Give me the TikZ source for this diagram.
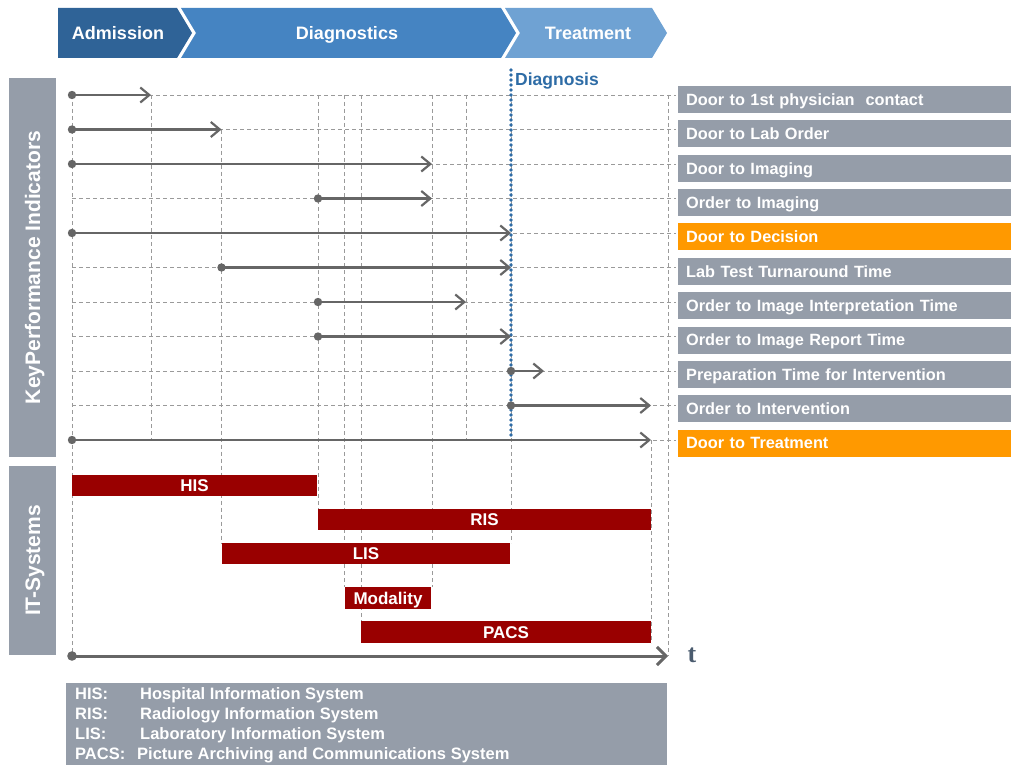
\documentclass[tikz,border=0pt]{standalone}
\usepackage{fontspec}
\setmainfont{Liberation Sans}
\newfontfamily\tfont{Liberation Serif}
\usetikzlibrary{arrows.meta}
\definecolor{admblue}{HTML}{2F6397}
\definecolor{diagblue}{HTML}{4584C2}
\definecolor{treatblue}{HTML}{6FA2D3}
\definecolor{slate}{HTML}{959DA9}
\definecolor{kpiorange}{HTML}{FF9900}
\definecolor{sysred}{HTML}{990000}
\definecolor{arrowgray}{HTML}{666666}
\definecolor{gridgray}{HTML}{9A9A9A}
\definecolor{dxblue}{HTML}{2E6CA6}
\definecolor{tcolor}{HTML}{4A5B6E}
\begin{document}
\begin{tikzpicture}[x=1pt,y=-1pt,
  grid/.style={draw=gridgray, line width=0.9pt, dash pattern=on 4pt off 3pt},
  kpiarrow/.style={draw=arrowgray, line width=2.2pt, -{Straight Barb[length=9pt,width=15pt]}},
  kpibox/.style={anchor=west, fill=slate, text=white, font=\fontsize{16.3}{18}\selectfont\bfseries, minimum height=27pt, text width=317pt, inner xsep=8pt, inner ysep=0pt, align=left, text height=11.7pt, text depth=0pt},
  keybox/.style={kpibox, fill=kpiorange},
  sysbar/.style={fill=sysred, text=white, font=\fontsize{17}{19}\selectfont\bfseries, minimum height=21.5pt, inner sep=0pt, text height=12.2pt, text depth=0pt},
  phase/.style={text=white, font=\fontsize{18}{20}\selectfont\bfseries, inner sep=0pt, text height=13pt, text depth=0pt},
  sidebar/.style={fill=slate, text=white, rotate=90, font=\fontsize{21}{24}\selectfont\bfseries, minimum height=47pt, inner sep=0pt, text height=15.1pt, text depth=0pt},
  legend/.style={anchor=west, text=white, font=\fontsize{16.5}{19}\selectfont\bfseries, inner sep=0pt, text height=11.9pt, text depth=0pt},
]
\useasboundingbox (0,0) rectangle (1011,765);

% phase chevrons
\fill[admblue] (58,8) -- (177,8) -- (192,33) -- (177,58) -- (58,58) -- cycle;
\fill[diagblue] (181,8) -- (501,8) -- (516,33) -- (501,58) -- (181,58) -- (196,33) -- cycle;
\fill[treatblue] (505,8) -- (652,8) -- (667,33) -- (652,58) -- (505,58) -- (520,33) -- cycle;
\node[phase] (adm) at (118,33) {Admission};
\node[phase] (diag) at (347,33) {Diagnostics};
\node[phase] (treat) at (588,33) {Treatment};

% side bars
\node[sidebar, minimum width=379pt] (kpi) at (32.5,267.5) {KeyPerformance Indicators};
\node[sidebar, minimum width=189pt] (its) at (32.5,560.5) {IT-Systems};

% grid
\foreach \y in {95,129.5,164,198.5,233,267.5,302,336.5,371,405.5,440}
  \draw[grid] (72,\y) -- (676,\y);
\draw[grid] (72,95) -- (72,656);
\draw[grid] (151,95) -- (151,440);
\draw[grid] (221.5,129.5) -- (221.5,543);
\draw[grid] (318,95) -- (318,509);
\draw[grid] (344.5,95) -- (344.5,587);
\draw[grid] (361,95) -- (361,621);
\draw[grid] (432,95) -- (432,587);
\draw[grid] (466,95) -- (466,440);
\draw[grid] (511,95) -- (511,543);
\draw[grid] (651,440) -- (651,643);
\draw[grid] (668,95) -- (668,656);

% diagnosis line
\draw[dxblue, line width=3.6pt, line cap=round, dash pattern=on 0pt off 5pt] (511,70) -- (511,437);
\node[anchor=west, text=dxblue, font=\fontsize{17.5}{19}\selectfont\bfseries, inner sep=0pt, text height=12.6pt, text depth=0pt] (dx) at (515,79) {Diagnosis};

% KPI arrows
\coordinate (s1) at (72,95);      \coordinate (e1) at (151,95);
\coordinate (s2) at (72,129.5);   \coordinate (e2) at (221.5,129.5);
\coordinate (s3) at (72,164);     \coordinate (e3) at (432,164);
\coordinate (s4) at (318,198.5);  \coordinate (e4) at (432,198.5);
\coordinate (s5) at (72,233);     \coordinate (e5) at (511,233);
\coordinate (s6) at (221.5,267.5);\coordinate (e6) at (511,267.5);
\coordinate (s7) at (318,302);    \coordinate (e7) at (466,302);
\coordinate (s8) at (318,336.5);  \coordinate (e8) at (511,336.5);
\coordinate (s9) at (511,371);    \coordinate (e9) at (544,371);
\coordinate (s10) at (511,405.5); \coordinate (e10) at (651,405.5);
\coordinate (s11) at (72,440);    \coordinate (e11) at (651,440);
\foreach \i in {1,...,11} {
  \draw[kpiarrow] (s\i) -- (e\i);
  \fill[arrowgray] (s\i) circle (4.2pt);
}

% KPI labels
\node[kpibox] (l1) at (678,99.5) {Door to 1st physician\ \ contact};
\node[kpibox] (l2) at (678,133.9) {Door to Lab Order};
\node[kpibox] (l3) at (678,168.2) {Door to Imaging};
\node[kpibox] (l4) at (678,202.6) {Order to Imaging};
\node[keybox] (l5) at (678,236.9) {Door to Decision};
\node[kpibox] (l6) at (678,271.3) {Lab Test Turnaround Time};
\node[kpibox] (l7) at (678,305.6) {Order to Image Interpretation Time};
\node[kpibox] (l8) at (678,340.0) {Order to Image Report Time};
\node[kpibox] (l9) at (678,374.3) {Preparation Time for Intervention};
\node[kpibox] (l10) at (678,408.7) {Order to Intervention};
\node[keybox] (l11) at (678,443.0) {Door to Treatment};

% IT systems bars
\node[sysbar, minimum width=245pt] (his) at (194.5,485.5) {HIS};
\node[sysbar, minimum width=333pt] (ris) at (484.5,519.5) {RIS};
\node[sysbar, minimum width=288pt] (lis) at (366,553.5) {LIS};
\node[sysbar, minimum width=86pt] (mod) at (388,598) {Modality};
\node[sysbar, minimum width=290pt] (pacs) at (506,632) {PACS};

% time axis
\coordinate (t0) at (72,656);
\coordinate (t1) at (668,656);
\draw[arrowgray, line width=3pt, -{Straight Barb[length=9pt,width=18pt]}] (t0) -- (t1);
\fill[arrowgray] (t0) circle (4.8pt);
\node[text=tcolor, font=\tfont\fontsize{26}{28}\selectfont\bfseries, inner sep=0pt] (tlab) at (692,655) {t};

% legend
\fill[slate] (66,683) rectangle (667,765);
\node[legend] (k1) at (75,694) {HIS:};
\node[legend] (d1) at (140,694) {Hospital Information System};
\node[legend] (k2) at (75,714) {RIS:};
\node[legend] (d2) at (140,714) {Radiology Information System};
\node[legend] (k3) at (75,734) {LIS:};
\node[legend] (d3) at (140,734) {Laboratory Information System};
\node[legend] (k4) at (75,754) {PACS:};
\node[legend] (d4) at (137,754) {Picture Archiving and Communications System};
\end{tikzpicture}
\end{document}
